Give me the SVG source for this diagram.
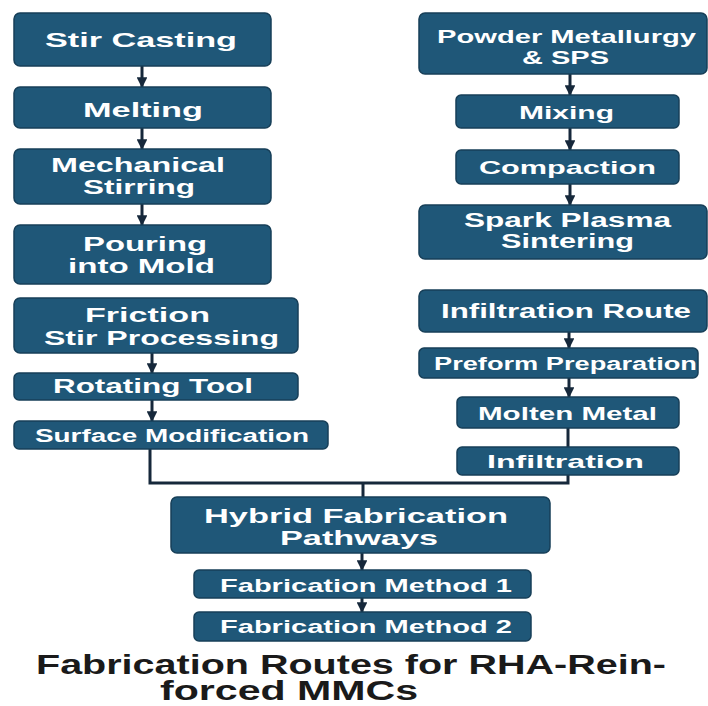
<svg xmlns="http://www.w3.org/2000/svg" width="708" height="706" viewBox="0 0 708 706">
<style>
.box{fill:#1f5778;stroke:#173f58;stroke-width:1.5}
.t{fill:#ffffff;font-family:"Liberation Sans",Arial,sans-serif;font-weight:bold;text-anchor:start}
.c{fill:none;stroke:#16283b;stroke-width:3}
.title{fill:#1a1a1a;font-family:"Liberation Sans",Arial,sans-serif;font-weight:bold;font-size:27px}
</style>
<defs>
<marker id="ah" viewBox="0 0 10 10" refX="9" refY="5" markerWidth="3.6" markerHeight="3.6" orient="auto" markerUnits="strokeWidth">
<path d="M0,0 L10,5 L0,10 z" fill="#16283b"/>
</marker>
</defs>
<rect width="708" height="706" fill="#ffffff"/>

<g id="connectors">
<line class="c" x1="142" y1="66" x2="142" y2="87" marker-end="url(#ah)"/>
<line class="c" x1="142" y1="128" x2="142" y2="149" marker-end="url(#ah)"/>
<line class="c" x1="142" y1="204" x2="142" y2="225" marker-end="url(#ah)"/>
<line class="c" x1="152" y1="353" x2="152" y2="373" marker-end="url(#ah)"/>
<line class="c" x1="152" y1="400" x2="152" y2="421" marker-end="url(#ah)"/>
<line class="c" x1="570" y1="74" x2="570" y2="95" marker-end="url(#ah)"/>
<line class="c" x1="570" y1="128" x2="570" y2="150" marker-end="url(#ah)"/>
<line class="c" x1="570" y1="184" x2="570" y2="205" marker-end="url(#ah)"/>
<line class="c" x1="569" y1="332" x2="569" y2="348" marker-end="url(#ah)"/>
<line class="c" x1="569" y1="378" x2="569" y2="397" marker-end="url(#ah)"/>
<line class="c" x1="568" y1="428" x2="568" y2="447"/>
<polyline class="c" points="150,449 150,483 568,483 568,475"/>
<line class="c" x1="363" y1="483" x2="363" y2="497"/>
<line class="c" x1="362" y1="553" x2="362" y2="570" marker-end="url(#ah)"/>
<line class="c" x1="362" y1="598" x2="362" y2="612" marker-end="url(#ah)"/>
</g>

<g id="stir-casting"><rect class="box" x="14" y="13" width="257" height="53" rx="6"/>
<text class="t" x="45" y="47" font-size="21" textLength="192" lengthAdjust="spacingAndGlyphs">Stir Casting</text></g>
<g id="melting"><rect class="box" x="14" y="87" width="257" height="41" rx="6"/>
<text class="t" x="83" y="117" font-size="21" textLength="120" lengthAdjust="spacingAndGlyphs">Melting</text></g>
<g id="mechanical-stirring"><rect class="box" x="14" y="149" width="257" height="55" rx="6"/>
<text class="t" x="51" y="172" font-size="21" textLength="174" lengthAdjust="spacingAndGlyphs">Mechanical</text>
<text class="t" x="83" y="194" font-size="21" textLength="112" lengthAdjust="spacingAndGlyphs">Stirring</text></g>
<g id="pouring"><rect class="box" x="14" y="225" width="257" height="59" rx="6"/>
<text class="t" x="83" y="251" font-size="21" textLength="124" lengthAdjust="spacingAndGlyphs">Pouring</text>
<text class="t" x="68" y="273" font-size="21" textLength="147" lengthAdjust="spacingAndGlyphs">into Mold</text></g>

<g id="friction-stir"><rect class="box" x="14" y="298" width="284" height="55" rx="6"/>
<text class="t" x="85" y="322" font-size="21" textLength="125" lengthAdjust="spacingAndGlyphs">Friction</text>
<text class="t" x="44" y="345" font-size="21" textLength="235" lengthAdjust="spacingAndGlyphs">Stir Processing</text></g>
<g id="rotating-tool"><rect class="box" x="14" y="373" width="284" height="27" rx="5"/>
<text class="t" x="53" y="393" font-size="20" textLength="200" lengthAdjust="spacingAndGlyphs">Rotating Tool</text></g>
<g id="surface-mod"><rect class="box" x="14" y="421" width="314" height="28" rx="5"/>
<text class="t" x="35" y="442" font-size="18" textLength="274" lengthAdjust="spacingAndGlyphs">Surface Modification</text></g>

<g id="powder"><rect class="box" x="419" y="13" width="288" height="61" rx="6"/>
<text class="t" x="437" y="43" font-size="19" textLength="259" lengthAdjust="spacingAndGlyphs">Powder Metallurgy</text>
<text class="t" x="522" y="64" font-size="19" textLength="87" lengthAdjust="spacingAndGlyphs">&amp; SPS</text></g>
<g id="mixing"><rect class="box" x="456" y="95" width="223" height="33" rx="5"/>
<text class="t" x="519" y="119" font-size="19" textLength="95" lengthAdjust="spacingAndGlyphs">Mixing</text></g>
<g id="compaction"><rect class="box" x="456" y="150" width="223" height="34" rx="5"/>
<text class="t" x="479" y="174" font-size="19" textLength="177" lengthAdjust="spacingAndGlyphs">Compaction</text></g>
<g id="sps"><rect class="box" x="419" y="205" width="288" height="54" rx="6"/>
<text class="t" x="464" y="227" font-size="20" textLength="207" lengthAdjust="spacingAndGlyphs">Spark Plasma</text>
<text class="t" x="501" y="248" font-size="20" textLength="133" lengthAdjust="spacingAndGlyphs">Sintering</text></g>

<g id="infiltration-route"><rect class="box" x="419" y="290" width="288" height="42" rx="6"/>
<text class="t" x="441" y="318" font-size="20" textLength="250" lengthAdjust="spacingAndGlyphs">Infiltration Route</text></g>
<g id="preform"><rect class="box" x="419" y="348" width="279" height="30" rx="5"/>
<text class="t" x="434" y="370" font-size="18" textLength="263" lengthAdjust="spacingAndGlyphs">Preform Preparation</text></g>
<g id="molten-metal"><rect class="box" x="457" y="397" width="222" height="31" rx="5"/>
<text class="t" x="478" y="420" font-size="19" textLength="179" lengthAdjust="spacingAndGlyphs">Molten Metal</text></g>
<g id="infiltration"><rect class="box" x="457" y="447" width="222" height="28" rx="5"/>
<text class="t" x="487" y="468" font-size="19" textLength="157" lengthAdjust="spacingAndGlyphs">Infiltration</text></g>

<g id="hybrid"><rect class="box" x="171" y="497" width="379" height="56" rx="6"/>
<text class="t" x="204" y="523" font-size="21" textLength="304" lengthAdjust="spacingAndGlyphs">Hybrid Fabrication</text>
<text class="t" x="280" y="545" font-size="21" textLength="158" lengthAdjust="spacingAndGlyphs">Pathways</text></g>
<g id="method-1"><rect class="box" x="194" y="570" width="337" height="28" rx="5"/>
<text class="t" x="220" y="592" font-size="19" textLength="292" lengthAdjust="spacingAndGlyphs">Fabrication Method 1</text></g>
<g id="method-2"><rect class="box" x="194" y="612" width="337" height="29" rx="5"/>
<text class="t" x="220" y="633" font-size="19" textLength="292" lengthAdjust="spacingAndGlyphs">Fabrication Method 2</text></g>

<g id="title">
<text class="title" x="36" y="674" textLength="630" lengthAdjust="spacingAndGlyphs">Fabrication Routes for RHA-Rein-</text>
<text class="title" x="160" y="700" textLength="258" lengthAdjust="spacingAndGlyphs">forced MMCs</text>
</g>
</svg>
